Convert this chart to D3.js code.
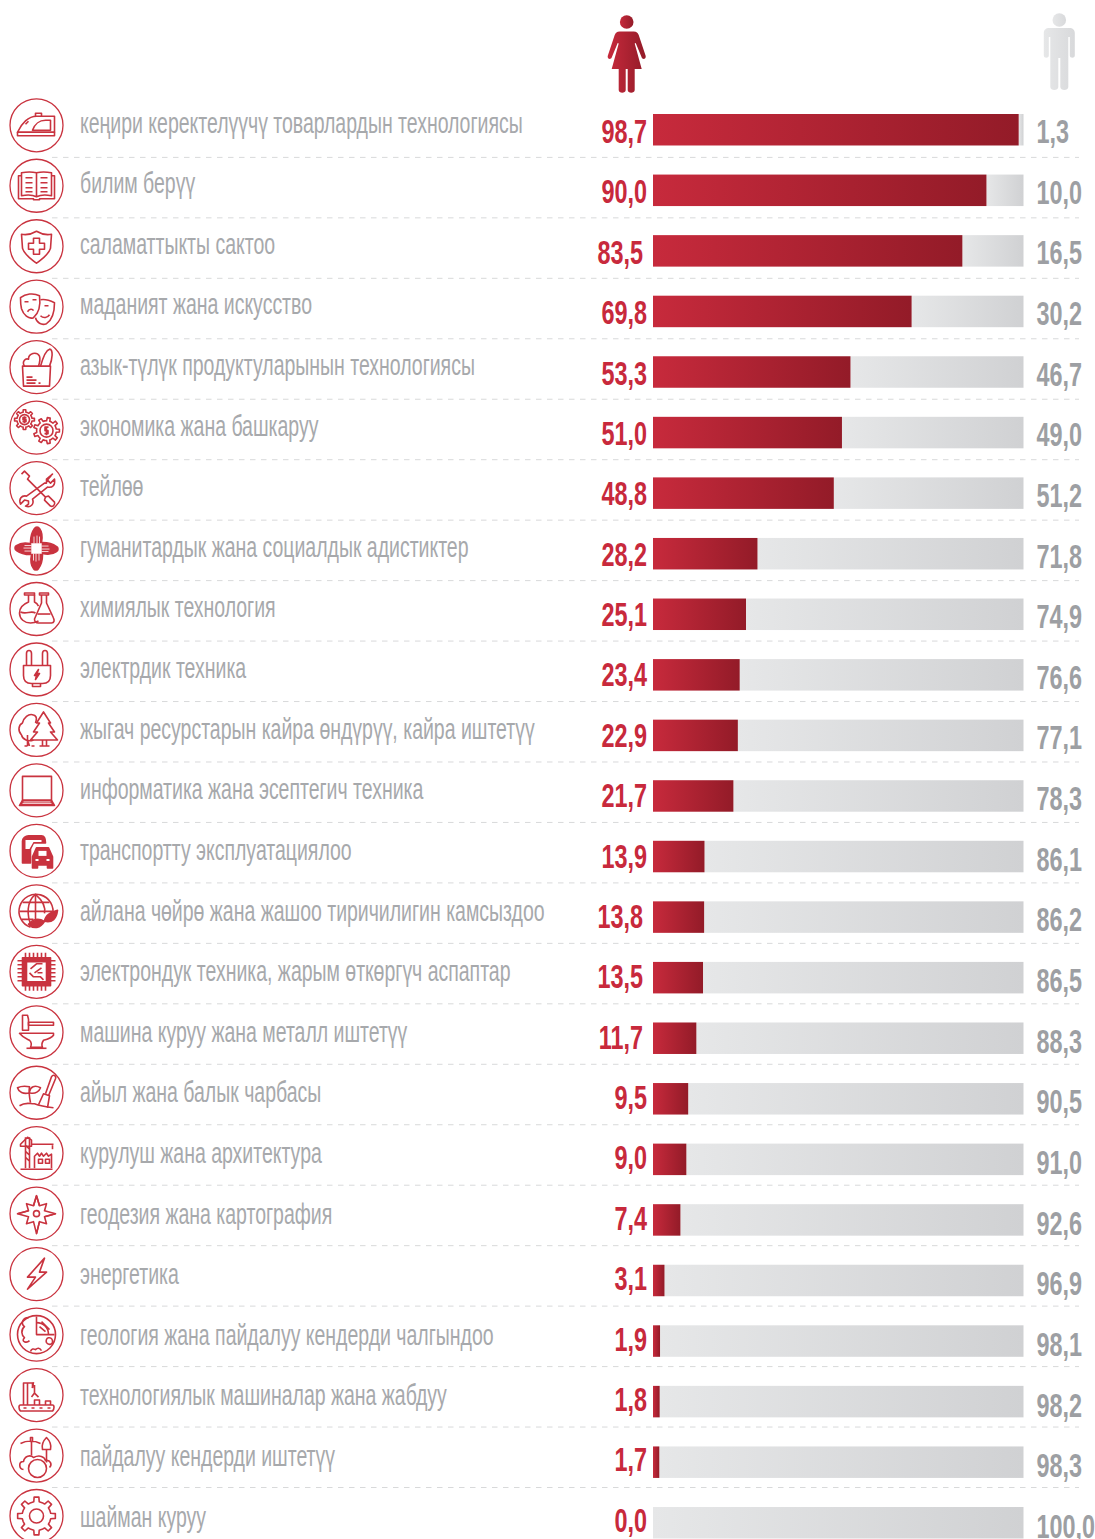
<!DOCTYPE html>
<html>
<head>
<meta charset="utf-8">
<script src="https://cdn.jsdelivr.net/npm/d3@7"></script>
<style>
  html, body { margin: 0; background: #fff; }
  svg { display: block; }
  text { font-family: "Liberation Sans Narrow", "Liberation Sans", sans-serif; }
</style>
</head>
<body>
<div id="chart"></div>
<script>
var width = 1095;
var height = 1539;

var categories = [
  "кеңири керектелүүчү товарлардын технологиясы",
  "билим берүү",
  "саламаттыкты сактоо",
  "маданият жана искусство",
  "азык-түлүк продуктуларынын технологиясы",
  "экономика жана башкаруу",
  "тейлөө",
  "гуманитардык жана социалдык адистиктер",
  "химиялык технология",
  "электрдик техника",
  "жыгач ресурстарын кайра өндүрүү, кайра иштетүү",
  "информатика жана эсептегич техника",
  "транспортту эксплуатациялоо",
  "айлана чөйрө жана жашоо тиричилигин камсыздоо",
  "электрондук техника, жарым өткөргүч аспаптар",
  "машина куруу жана металл иштетүү",
  "айыл жана балык чарбасы",
  "курулуш жана архитектура",
  "геодезия жана картография",
  "энергетика",
  "геология жана пайдалуу кендерди чалгындоо",
  "технологиялык машиналар жана жабдуу",
  "пайдалуу кендерди иштетүү",
  "шайман куруу"
];
var women = [98.7, 90.0, 83.5, 69.8, 53.3, 51.0, 48.8, 28.2, 25.1, 23.4, 22.9, 21.7, 13.9, 13.8, 13.5, 11.7, 9.5, 9.0, 7.4, 3.1, 1.9, 1.8, 1.7, 0.0];
var men = [1.3, 10.0, 16.5, 30.2, 46.7, 49.0, 51.2, 71.8, 74.9, 76.6, 77.1, 78.3, 86.1, 86.2, 86.5, 88.3, 90.5, 91.0, 92.6, 96.9, 98.1, 98.2, 98.3, 100.0];

var RED = "#c8293c";
var GREY = "#a7a9ac";
var LINE = "#c9333f";

// toothed outline for the gear icons
function gear(cx, cy, r, teeth) {
  var pts = [];
  var step = 2 * Math.PI / teeth;
  d3.range(teeth).forEach(function(i) {
    var a = i * step;
    [[-0.5, 0.76], [-0.24, 0.76], [-0.16, 1], [0.16, 1], [0.24, 0.76]].forEach(function(p) {
      var t = a + p[0] * step;
      pts.push([cx + r * p[1] * Math.cos(t), cy + r * p[1] * Math.sin(t)]);
    });
  });
  return d3.line()(pts) + "Z";
}
function ring(cx, cy, r) {
  return "M" + (cx - r) + "," + cy + "a" + r + "," + r + " 0 1,0 " + (2 * r) + ",0a" + r + "," + r + " 0 1,0 " + (-2 * r) + ",0";
}

// icons, drawn around the centre of each circle. [path, kind]: 1 filled, "w" white fill, "ws" white stroke
var icons = [
  // iron
  [["M-19,7C-15,-2 -8,-9 0,-9L18,-9L18,7Z"], ["M-19,7h37v3.5h-37z"], ["M-4,5C-2,-1 3,-5 9,-5L14,-5L14,5Z"], ["M-1,-9v-3h6v3"], ["M-11,-1L-8,-4"]],
  // book
  [["M0,-13C-4,-14 -10,-14 -15,-13V10C-10,9 -4,9 0,11C4,9 10,9 15,10V-13C10,-14 4,-14 0,-13V11"], ["M-15,-10H-18V13H-3V14H3V13H18V-10H15"], ["M-11,-8H-4M-11,-3H-4M-11,2H-4M-11,6H-4M4,-8H11M4,-3H11M4,2H11M4,6H11"]],
  // shield
  [["M0,-15C-5,-12 -10,-11 -15,-12L-14,2C-12,9 -5,13 0,17C5,13 12,9 14,2L15,-12C10,-11 5,-12 0,-15Z"], ["M-3,-8h6v5h5v6h-5v5h-6v-5h-5v-6h5z"]],
  // masks
  [["M-16,-9C-11,-13 -3,-14 3,-11C4,-3 3,6 -3,11C-8,13 -13,8 -15,2C-16,-2 -16,-6 -16,-9Z"], ["M4,-7C9,-8 14,-6 18,-4C18,4 16,13 10,17C5,19 0,16 -1,11"], ["M-12,-5h4M-4,-7h4M8,-1h4"], ["M-9,5C-7,2 -4,2 -3,4"], ["M4,9C7,12 11,11 13,8"]],
  // grocery bag
  [["M-14,-1H14L13,19H-13Z"], ["M-12,-1C-15,-6 -11,-9 -8,-8C-8,-14 0,-16 3,-11C4,-8 3,-4 2,-1"], ["M4,-1C6,-8 9,-17 13,-18C17,-18 16,-8 13,-1"], ["M-10,10H-4M-10,13H0M-10,16H-1M2,16H4"]],
  // gears with coins
  [[gear(-12, -8, 10, 8)], [ring(-12, -8, 5)], ["M-12,-11.500V-4.500M-10,-10H-13.500V-8H-10.500V-6H-14"], [gear(10, 3, 13, 9)], [ring(10, 3, 6.5)], ["M10,-1.500V7.500M12,-0.500H8.500V3H11.500V6H8"]],
  // tools
  [["M-15,-14L-12,-17L-7,-12L-9,-9L9,9L12,8L18,14C19,17 16,19 14,18L8,12L9,9"], ["M16,-14L10,-9L10,-5L8,-5L-10,8C-15,7 -18,11 -16,16L-12,12L-8,13L-8,16L-11,18C-6,20 -2,16 -4,11L11,-1C16,0 19,-3 18,-9L14,-5L11,-8L16,-14Z"]],
  // hands
  [["M-2,-20C-5,-16 -6,-11 -6,-6L5,-6C6,-11 6,-16 3,-20C2,-22 -1,-22 -2,-20Z", 1], ["M20,-2C16,-5 11,-6 6,-6L6,5C11,6 16,6 20,3C22,2 22,-1 20,-2Z", 1], ["M2,20C5,16 6,11 6,6L-5,6C-6,11 -6,16 -3,20C-2,22 1,22 2,20Z", 1], ["M-20,2C-16,5 -11,6 -6,6L-6,-5C-11,-6 -16,-6 -20,-3C-22,-2 -22,1 -20,2Z", 1],
    ["M-2.500,-12V-5M0.500,-13V-5M3,-12V-5M12,-2.500H5M13,0.500H5M12,3H5M2.500,12V5M-0.500,13V5M-3,12V5M-12,2.500H-5M-13,-0.500H-5M-12,-3H-5", "ws"]],
  // flasks
  [["M-8,-14V-7C-13,-5 -17,-1 -17,4C-17,10 -12,14 -6,14C-2,14 0,13 2,12"], ["M-12,-16H-2V-14H-12Z"], ["M-2,-14V-7C0,-6 1,-5 2,-3"], ["M-16,3C-10,6 -6,1 -1,4"], ["M3,-16H12V-14H3Z"], ["M5,-14V-6L-2,10C-2,12 -1,14 2,14H15C18,14 18,11 17,9L10,-6V-14"], ["M1,5H14"]],
  // plug
  [["M-13,-4H14V6C14,12 10,14 6,14H-5C-9,14 -13,12 -13,6Z"], ["M-10,-4V-16C-10,-20 -5,-20 -5,-16V-4"], ["M6,-4V-16C6,-20 11,-20 11,-16V-4"], ["M-4,14V17H4V14"], ["M2,0L-2,6H0L-1,10L3,4H0.500Z", 1]],
  // trees
  [["M-3,10C-8,12 -14,10 -15,5C-19,1 -18,-5 -14,-7C-13,-12 -8,-17 -3,-15C1,-14 0,-10 -1,-7"], ["M7,-18L0,-7H3L-3,2H1L-6,10H21L14,2H18L12,-7H14Z"], ["M-9,10L-7,16M-9,5L-9,16M-9,16H-12M-5,16H-2"], ["M6,10V16M10,10V16M3,16H13"]],
  // laptop
  [["M-14,-14H15V10H-14Z"], ["M-14,10H15L18,15H-17Z", 1], ["M-13,11.500H14M-14,13H15", "ws"]],
  // cars
  [["M-14,12V-10C-14,-13 -11,-15 -8,-15H5C8,-15 9,-12 9,-8H-3L-6,-2V12Z", 1], ["M-11,-11H5V-9H-3L-7,-2H-11Z", "w"], ["M-4,17V6L0,-3H12L16,6V17H11V14H1V17Z", 1], ["M2,0H10V5H2Z", "w"], ["M-1,8h3v2h-3zM10,8h3v2h-3z", "w"]],
  // globe with leaves
  [["M-6,16A17,17 0 1,1 16,4"], ["M-5,15C-10,4 -10,-10 -1,-17C7,-10 9,-3 8,2"], ["M-1,-17V8"], ["M-14,-9H13M-17,0H16M-15,8H-3"], ["M-8,13C-3,7 3,7 8,10C4,17 -3,18 -8,13Z", 1], ["M8,10C9,3 15,1 21,-1C20,7 16,12 8,10Z", 1]],
  // chip
  [["M-14,-14H14V14H-14ZM-10,-10V10H10V-10Z", 1], ["M-11,-19V-14M-7,-19V-14M-3,-19V-14M1,-19V-14M5,-19V-14M9,-19V-14M-11,19V14M-7,19V14M-3,19V14M1,19V14M5,19V14M9,19V14M-19,-11H-14M-19,-7H-14M-19,-3H-14M-19,1H-14M-19,5H-14M-19,9H-14M19,-11H14M19,-7H14M19,-3H14M19,1H14M19,5H14M19,9H14"], ["M-6,-3L0,-8H6M-7,1L-3,5H4L7,8M-2,1L5,-4M1,1H6"]],
  // anvil
  [["M-14,-17H-9L-8,-13V-2H-14Z"], ["M-8,-10H17V-7H-8Z"], ["M-17,1H17V3C15,6 11,7 7,8C5,11 5,13 6,15H-6C-5,13 -5,10 -7,8C-11,6 -14,5 -17,1Z"], ["M-10,16H10"]],
  // seedling and trowel
  [["M-17,13C-11,9 -8,11 -2,11C3,13 8,14 17,15"], ["M-6,10C-7,5 -8,0 -7,-6C-12,-7 -17,-6 -19,-5C-18,-1 -13,2 -7,0"], ["M-7,-1C-6,-6 -2,-8 4,-5C3,-2 -1,2 -7,0"], ["M2,12L7,1L13,3L11,15"], ["M9,1L15,-16C17,-19 20,-17 19,-14L12,3"]],
  // crane and building
  [["M-11,-16V15M-7,-16V15M-11,-8L-7,-4M-11,-2L-7,2M-11,4L-7,8"], ["M-16,-9L-9,-16L-5,-13V-7H-16ZM-5,-9H17"], ["M16,-8V-4"], ["M-2,15V3L1,0L3,3L5,0L7,3L10,0L12,3L15,1V15"], ["M-16,16H16"], ["M2,6H6V10H2ZM9,6H13V10H9Z"]],
  // compass rose
  [["M0,-18L3,-8L10,-10L8,-3L19,0L8,3L10,10L3,8L0,20L-3,8L-10,10L-8,3L-19,0L-8,-3L-10,-10L-3,-8Z"], ["M-3,0a3,3 0 1,0 6,0a3,3 0 1,0 -6,0"], ["M0,-18L-3,-8M0,-18L3,-8M-19,0L-8,-3M19,0L8,3M0,20L3,8"]],
  // lightning
  [["M8,-16L-9,3H-1L-9,15L10,-2H3Z"]],
  // geology
  [[ring(0, 0, 19)], ["M0,-18V0H18"], ["M0,-12C7,-12 12,-7 12,0"], ["M5,-13L13,-5M3,-8L9,-3"], ["M-8,-17C-14,-17 -16,-11 -12,-8C-16,-5 -15,1 -12,3C-16,7 -10,9 -7,6"], ["M-6,17C-5,14 -3,14 -1,15C1,13 3,13 5,16"], ["M10,8C8,3 15,1 16,6C17,10 12,11 10,8Z"]],
  // conveyor robot
  [["M-16,16H16C18,14 18,10 16,10H-16C-18,10 -18,14 -16,16Z"], ["M-13,13H-10M-5,13H-2M3,13H6M11,13H14"], ["M-13,10V-12H-4V-7M-9,-12V10"], ["M-4,-7L-3,-13M-2,-10L-2,-2M-2,-2L-5,2M-2,-2L2,2"], ["M-2,10V5H3V10M9,10V6H14V10"]],
  // mining tools
  [["M-16,-12C-10,-15 -2,-15 4,-12M-6,-18V-14H-4V-18ZM-5,-14V0"], ["M10,-18C6,-14 5,-10 6,-6H14C15,-10 14,-14 10,-18ZM10,-6V7"], ["M-13,14C-18,13 -18,6 -13,6C-12,0 -6,-1 -3,2C3,-1 8,1 9,5C14,4 16,9 13,12"], [ring(1, 13, 9)]],
  // gear
  [[gear(0, 0, 19, 8)], [ring(0, 0, 7)]]
];

// small hand placement of the value labels, as in the original layout
var womenShift = [0, 0, -4, 0, 0, 0, 0, 0, 0, 0, 0, 0, 0, -4, -4, -4, 0, 0, 0, 0, 0, 0, 0, 0];

var svg = d3.select("#chart").append("svg")
  .attr("width", width)
  .attr("height", height);

var defs = svg.append("defs");
function addGradient(id, from, to) {
  var g = defs.append("linearGradient").attr("id", id);
  g.append("stop").attr("offset", "0%").attr("stop-color", from);
  g.append("stop").attr("offset", "100%").attr("stop-color", to);
}
addGradient("redGrad", "#c72a3c", "#931b28");
addGradient("greyGrad", "#e6e7e8", "#d0d1d3");
addGradient("manGrad", "#e6e7e8", "#d8d9db");

var x = d3.scaleLinear().domain([0, 100]).range([653, 1023.5]);
var y = d3.scaleBand().domain(d3.range(categories.length)).range([114, 1538.5]).paddingInner(0.48);

// the rows drift a little against each other in the source
var iconY = d3.scaleLinear().domain([0, 23]).range([125.3, 1516]);
var ruleY = d3.scaleLinear().domain([0, 22]).range([157.4, 1487.5]);
var labelY = d3.scaleLinear().domain([0, 23]).range([132.5, 1526.7]);
var womenY = d3.scaleLinear().domain([0, 23]).range([143, 1531.7]);
var menY = d3.scaleLinear().domain([0, 23]).range([143, 1537.8]);

var comma = function(v) { return d3.format(".1f")(v).replace(".", ","); };

// dashed rules
svg.append("g").selectAll("line")
  .data(d3.range(23))
  .enter().append("line")
  .attr("x1", 52).attr("x2", 1079)
  .attr("y1", function(d) { return ruleY(d); })
  .attr("y2", function(d) { return ruleY(d); })
  .attr("stroke", "#d8d9da")
  .attr("stroke-width", 1)
  .attr("stroke-dasharray", "5.500 5.500");

// icons
var iconG = svg.append("g").selectAll("g")
  .data(icons)
  .enter().append("g")
  .attr("transform", function(d, i) { return "translate(36.500," + iconY(i) + ")"; });

iconG.append("circle")
  .attr("r", 26.5)
  .attr("fill", "#fff")
  .attr("stroke", LINE)
  .attr("stroke-width", 1.3);

iconG.selectAll("path")
  .data(function(d) { return d; })
  .enter().append("path")
  .attr("d", function(d) { return d[0]; })
  .attr("fill", function(d) { return d[1] === 1 ? LINE : d[1] === "w" ? "#fff" : "none"; })
  .attr("fill-rule", "evenodd")
  .attr("stroke", function(d) { return d[1] === "w" ? "none" : d[1] === "ws" ? "#fff" : LINE; })
  .attr("stroke-width", function(d) { return d[1] === "ws" ? 0.8 : 1.6; })
  .attr("stroke-linejoin", "round");

// category labels
svg.append("g").selectAll("text")
  .data(categories)
  .enter().append("text")
  .attr("transform", function(d, i) { return "translate(80," + labelY(i) + ") scale(0.672,1)"; })
  .attr("font-size", 29)
  .attr("fill", GREY)
  .text(function(d) { return d; });

// bars
svg.append("g").selectAll("rect")
  .data(men)
  .enter().append("rect")
  .attr("x", function(d, i) { return x(women[i]); })
  .attr("y", function(d, i) { return y(i); })
  .attr("width", function(d, i) { return x(women[i] + d) - x(women[i]); })
  .attr("height", y.bandwidth())
  .attr("fill", "url(#greyGrad)");

svg.append("g").selectAll("rect")
  .data(women)
  .enter().append("rect")
  .attr("x", x(0))
  .attr("y", function(d, i) { return y(i); })
  .attr("width", function(d) { return x(d) - x(0); })
  .attr("height", y.bandwidth())
  .attr("fill", "url(#redGrad)");

// value labels
svg.append("g").selectAll("text")
  .data(women)
  .enter().append("text")
  .attr("transform", function(d, i) { return "translate(" + (647 + womenShift[i]) + "," + womenY(i) + ") scale(0.71,1)"; })
  .attr("text-anchor", "end")
  .attr("font-size", 33)
  .attr("font-weight", 700)
  .attr("fill", RED)
  .text(comma);

svg.append("g").selectAll("text")
  .data(men)
  .enter().append("text")
  .attr("transform", function(d, i) { return "translate(1036.500," + menY(i) + ") scale(0.71,1)"; })
  .attr("font-size", 33)
  .attr("font-weight", 700)
  .attr("fill", "#9d9fa3")
  .text(comma);

// woman and man figures
var woman = svg.append("g").attr("transform", "translate(626.700,0)").attr("fill", "url(#redGrad)");
woman.append("circle").attr("cy", 22).attr("r", 6.8);
woman.append("path").attr("d", "M-7,31.500H7C10,31.500 11,33 12,35L19,56C19.500,59 16,60 15,57.500L9,43L8,43.500L15,69H8V90C8,93.500 1,93.500 1,90V69H-1V90C-1,93.500 -8,93.500 -8,90V69H-15L-8,43.500L-9,43L-15,57.500C-16,60 -19.500,59 -19,56L-12,35C-11,33 -10,31.500 -7,31.500Z");

var man = svg.append("g").attr("transform", "translate(1059.300,0)").attr("fill", "url(#manGrad)");
man.append("circle").attr("cy", 20).attr("r", 6.8);
man.append("path").attr("d", "M-10,28H10C13.500,28 15.500,30 15.500,33V55.500C15.500,58.500 10.500,58.500 10.500,55.500V37H9V87C9,91 1,91 1,87V58H-1V87C-1,91 -9,91 -9,87V37H-10.500V55.500C-10.500,58.500 -15.500,58.500 -15.500,55.500V33C-15.500,30 -13.500,28 -10,28Z");
</script>
</body>
</html>
